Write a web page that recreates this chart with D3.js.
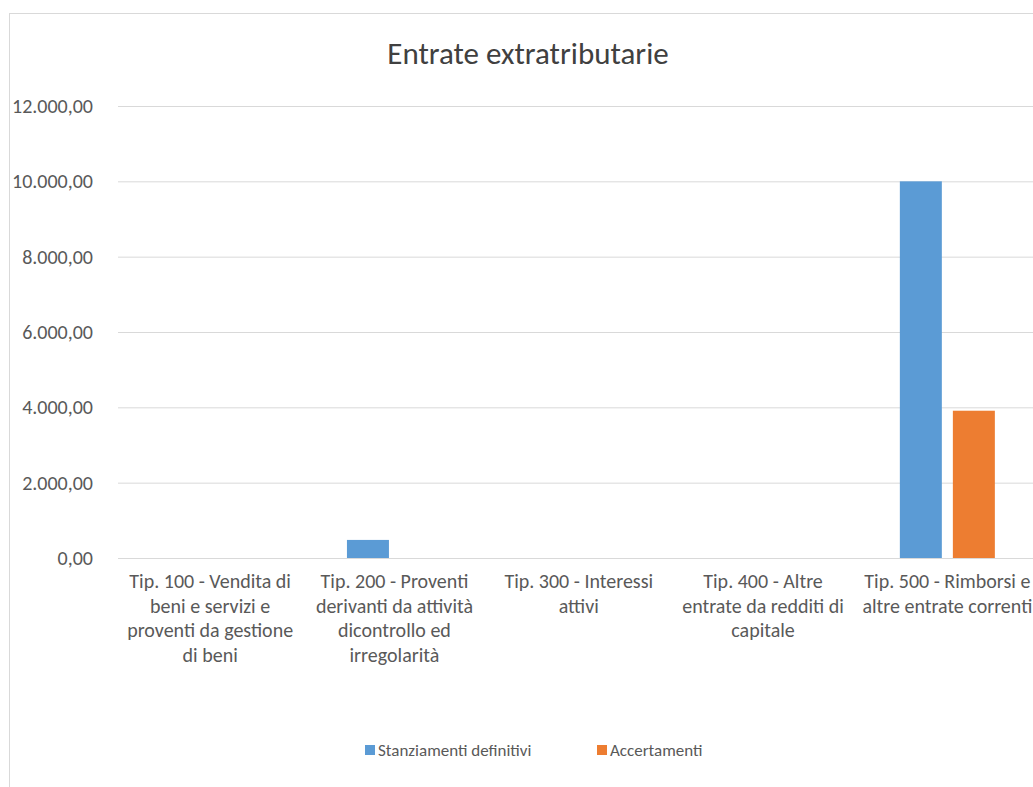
<!DOCTYPE html>
<html>
<head>
<meta charset="utf-8">
<script src="https://cdn.jsdelivr.net/npm/d3@7"></script>
<style>
  body { margin: 0; background: #fff; }
  svg { display: block; font-family: Carlito, Calibri, Lato, sans-serif; }
</style>
</head>
<body>
<svg id="chart"></svg>
<script>
var categories = [
  "Tip. 100 - Vendita di\nbeni e servizi e\nproventi da gestione\ndi beni",
  "Tip. 200 - Proventi\nderivanti da attività\ndicontrollo ed\nirregolarità",
  "Tip. 300 - Interessi\nattivi",
  "Tip. 400 - Altre\nentrate da redditi di\ncapitale",
  "Tip. 500 - Rimborsi e\naltre entrate correnti"
];
var seriesNames = ["Stanziamenti definitivi", "Accertamenti"];
var stanziamenti = [0, 480, 0, 0, 10000];
var accertamenti = [0, 0, 0, 0, 3910];
var yTicks = [0, 2000, 4000, 6000, 8000, 10000, 12000];
var colors = ["#5b9bd5", "#ed7d31"];

function main() {
  var svgWidth = 1033;
  var svgHeight = 787;
  var svg = d3.select("#chart").attr("width", svgWidth).attr("height", svgHeight);

  var plotLeft = 118;
  var plotRight = 1039.5;
  var plotTop = 106;
  var plotBottom = 558;

  // chart area border
  svg.append("rect")
    .attr("x", 9.5).attr("y", 13.5)
    .attr("width", 1100).attr("height", 800)
    .attr("fill", "#fff")
    .attr("stroke", "#d9d9d9");

  svg.append("text")
    .attr("x", 528).attr("y", 64)
    .attr("text-anchor", "middle")
    .attr("font-size", 31)
    .attr("font-weight", 300)
    .attr("fill", "#404040")
    .text("Entrate extratributarie");

  var yScale = d3.scaleLinear().domain([0, 12000]).range([plotBottom, plotTop]);
  var x0 = d3.scaleBand().domain(d3.range(categories.length)).range([plotLeft, plotRight]);
  var groupWidth = 95;
  var x1 = d3.scaleBand().domain(seriesNames).range([0, groupWidth]).paddingInner(0.208);

  var fmt = d3.formatLocale({ decimal: ",", thousands: ".", grouping: [3], currency: ["€", ""] }).format(",.2f");

  var yAxis = d3.axisLeft(yScale)
    .tickValues(yTicks)
    .tickSize(-(plotRight - plotLeft))
    .tickPadding(25)
    .tickFormat(fmt);

  var yAxisNode = svg.append("g")
    .attr("transform", `translate(${plotLeft},0)`)
    .call(yAxis);
  yAxisNode.select(".domain").remove();
  yAxisNode.selectAll(".tick line").attr("stroke", "#d9d9d9");
  yAxisNode.selectAll(".tick text")
    .attr("font-size", 20)
    .attr("font-family", "Carlito, Calibri, Lato, sans-serif")
    .attr("fill", "#595959");

  var seriesData = [stanziamenti, accertamenti];
  var bars = [];
  seriesData.forEach(function (vals, si) {
    vals.forEach(function (v, ci) {
      bars.push({ series: seriesNames[si], color: colors[si], cat: ci, value: v });
    });
  });

  var offset = (x0.bandwidth() - groupWidth) / 2;
  svg.append("g")
    .selectAll("rect")
    .data(bars.filter((d) => d.value > 0))
    .enter()
    .append("rect")
    .attr("x", (d) => x0(d.cat) + offset + x1(d.series))
    .attr("y", (d) => yScale(d.value))
    .attr("width", x1.bandwidth())
    .attr("height", (d) => plotBottom - yScale(d.value))
    .attr("fill", (d) => d.color);

  // category labels
  var labelNode = svg.append("g");
  categories.forEach(function (c, i) {
    var t = labelNode.append("text")
      .attr("text-anchor", "middle")
      .attr("font-size", 20)
      .attr("fill", "#595959");
    c.split("\n").forEach(function (line, li) {
      t.append("tspan")
        .attr("x", x0(i) + x0.bandwidth() / 2)
        .attr("y", 588 + li * 24.5)
        .text(line);
    });
  });

  // legend
  var legend = svg.append("g");
  var legendX = [365, 597];
  seriesNames.forEach(function (name, i) {
    legend.append("rect")
      .attr("x", legendX[i]).attr("y", 745)
      .attr("width", 10).attr("height", 10)
      .attr("fill", colors[i]);
    legend.append("text")
      .attr("x", legendX[i] + 13).attr("y", 756)
      .attr("font-size", 17)
      .attr("fill", "#595959")
      .text(name);
  });
}
main();
</script>
</body>
</html>
